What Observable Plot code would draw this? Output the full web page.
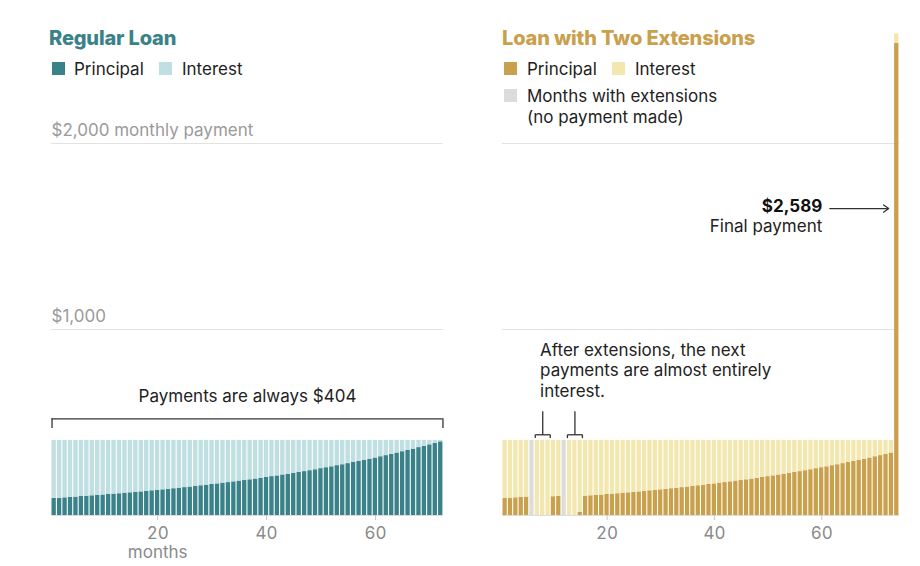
<!DOCTYPE html>
<html>
<head>
<meta charset="utf-8">
<script src="https://cdn.jsdelivr.net/npm/d3@7"></script>
<script src="https://cdn.jsdelivr.net/npm/@observablehq/plot@0.6"></script>
<style>
  html, body { margin: 0; padding: 0; background: #fff; }
  #wrap { position: relative; width: 920px; height: 566px; overflow: hidden; font-family: Inter, "Noto Sans", sans-serif; color: #222; }
  .panel { position: absolute; top: 0; }
  .abs { position: absolute; white-space: nowrap; }
  .title { font-size: 20px; line-height: 20px; font-weight: 800; letter-spacing: -0.15px; }
  .leg { font-size: 17px; line-height: 17px; }
  .sw { position: absolute; width: 13px; height: 13px; }
</style>
</head>
<body>
<div id="wrap">
  <div id="left" class="panel" style="left:0"></div>
  <div id="right" class="panel" style="left:460px"></div>

  <div class="abs title" style="left:49px; top:27.7px; color:#3a8289">Regular Loan</div>
  <div class="sw" style="left:52px; top:62px; background:#3a8289"></div>
  <div class="abs leg" style="left:74px; top:60.8px">Principal</div>
  <div class="sw" style="left:159px; top:62px; background:#bfdfe2"></div>
  <div class="abs leg" style="left:182px; top:60.8px">Interest</div>

  <div class="abs title" style="left:502px; top:27.7px; color:#c9a04b">Loan with Two Extensions</div>
  <div class="sw" style="left:504px; top:62px; background:#c9a04b"></div>
  <div class="abs leg" style="left:527px; top:60.8px">Principal</div>
  <div class="sw" style="left:612px; top:62px; background:#f3e7b0"></div>
  <div class="abs leg" style="left:635px; top:60.8px">Interest</div>
  <div class="sw" style="left:504px; top:88.5px; background:#dcdcdc"></div>
  <div class="abs leg" style="left:527px; top:88px">Months with extensions</div>
  <div class="abs leg" style="left:527px; top:108.5px">(no payment made)</div>
</div>
<script>
// ---------- data ----------
const regularPayment = 404;
const leftPrincipal = [92,93,95,97,99,102,104,106,108,110,113,115,117,120,122,125,127,130,133,135,138,141,144,147,150,153,157,160,163,167,170,174,177,181,185,188,192,196,200,205,209,213,218,222,227,232,236,241,246,252,257,262,268,273,279,285,291,297,303,309,316,322,329,336,343,350,357,365,372,380,388,396];
const leftInterest = [312,311,309,307,305,302,300,298,296,294,291,289,287,284,282,279,277,274,271,269,266,263,260,257,254,251,247,244,241,237,234,230,227,223,219,216,212,208,204,199,195,191,186,182,177,172,168,163,158,152,147,142,136,131,125,119,113,107,101,95,88,82,75,68,61,54,47,39,32,24,16,8];
const rightPrincipal = [92,93,95,97,99,0,0,0,0,101,103,0,0,0,18,104,106,108,110,113,115,117,120,122,125,127,130,133,135,138,141,144,147,150,153,157,160,163,167,170,174,177,181,185,188,192,196,200,205,209,213,218,222,227,232,236,241,246,252,257,262,268,273,279,285,291,297,303,309,316,322,329,336,2539];
const rightInterest = [312,311,309,307,305,0,404,404,404,303,301,0,404,404,386,300,298,296,294,291,289,287,284,282,279,277,274,271,269,266,263,260,257,254,251,247,244,241,237,234,230,227,223,219,216,212,208,204,199,195,191,186,182,177,172,168,163,158,152,147,142,136,131,125,119,113,107,101,95,88,82,75,68,50];
const extensionMonths = [6, 12];
const xTicks = [20, 40, 60];
const gridValues = [1000, 2000];
const gridLabels = ["$1,000", "$2,000 monthly payment"];
const finalPaymentLabel = "$2,589";

// ---------- style ----------
const FS = 17;
const C = {
  teal: "#3a8289", tealLight: "#bfdfe2",
  gold: "#c9a04b", goldLight: "#f3e7b0",
  ext: "#dcdcdc", grid: "#e2e2e2", base: "#dcdcdc",
  tick: "#c8c8c8", tickText: "#8a8a8a", gridText: "#9a9a9a", ink: "#222"
};
const common = {
  width: 460, height: 566, marginTop: 31.4, marginBottom: 51,
  y: {domain: [0, 2600], axis: null},
  style: {fontFamily: "Inter, 'Noto Sans', sans-serif", fontSize: FS + "px", color: C.ink, background: "transparent", overflow: "visible"}
};
const toRows = (p, it) => p.map((v, i) => ({month: i + 1, principal: v, interest: it[i]}));
const leftData = toRows(leftPrincipal, leftInterest);
const rightData = toRows(rightPrincipal, rightInterest);
const bx1 = d => d.month - 0.5, bx2 = d => d.month + 0.5;
const ins = {insetLeft: 0.5, insetRight: 0.6};
const axis = () => Plot.axisX({ticks: xTicks, tickSize: 5, tickPadding: 6, fontSize: FS, stroke: C.tick, fill: C.tickText, label: null});

// ---------- left panel ----------
const gridRows = gridValues.map((v, i) => ({value: v, label: gridLabels[i]}));
const left = Plot.plot({
  ...common, marginLeft: 51, marginRight: 17,
  x: {domain: [0.5, leftData.length + 0.5]},
  marks: [
    Plot.ruleY(gridValues, {stroke: C.grid}),
    Plot.text(gridRows, {x: 0.5, y: "value", text: "label", textAnchor: "start", lineAnchor: "bottom", dy: -8, fill: C.gridText, fontSize: FS}),
    Plot.rect(leftData, {x1: bx1, x2: bx2, y1: 0, y2: "principal", fill: C.teal, ...ins}),
    Plot.rect(leftData, {x1: bx1, x2: bx2, y1: "principal", y2: d => d.principal + d.interest, fill: C.tealLight, ...ins}),
    Plot.ruleY([0], {stroke: C.base}),
    axis(),
    Plot.text(["months"], {x: xTicks[0], frameAnchor: "bottom", lineAnchor: "bottom", dy: 42, fill: C.tickText, fontSize: FS}),
    // bracket over all payments
    Plot.ruleY([520], {x1: 0.6, x2: leftData.length + 0.4, stroke: "#333", strokeWidth: 1.3}),
    Plot.ruleX([0.6, leftData.length + 0.4], {y1: 468, y2: 520, stroke: "#333", strokeWidth: 1.3}),
    Plot.text(["Payments are always $" + regularPayment], {x: (leftData.length + 1) / 2, y: 612, lineAnchor: "bottom", fill: C.ink, fontSize: FS})
  ]
});
document.getElementById("left").appendChild(left);

// ---------- right panel ----------
const n = rightData.length;
const finalRow = rightData[n - 1];
const bracketRows = extensionMonths.map(m => ({from: m + 1, to: m + 3, mid: m + 2}));
const right = Plot.plot({
  ...common, marginLeft: 42, marginRight: 21,
  x: {domain: [0.5, n + 0.5]},
  marks: [
    Plot.ruleY(gridValues, {stroke: C.grid}),
    Plot.rect(extensionMonths, {x1: d => d - 0.5, x2: d => d + 0.5, y1: 0, y2: regularPayment, fill: C.ext, ...ins}),
    Plot.rect(rightData, {x1: bx1, x2: bx2, y1: 0, y2: "principal", fill: C.gold, ...ins}),
    Plot.rect(rightData.filter(d => d.interest > 0), {x1: bx1, x2: bx2, y1: "principal", y2: d => d.principal + d.interest, fill: C.goldLight, ...ins}),
    Plot.ruleY([0], {stroke: C.base}),
    axis(),
    // annotation text
    Plot.text(["After extensions, the next\npayments are almost entirely\ninterest."], {x: 7.5, y: 932, textAnchor: "start", lineAnchor: "top", lineHeight: 1.18, fill: C.ink, fontSize: FS}),
    // small brackets after each extension
    Plot.link(bracketRows, {x1: d => d.from - 0.4, x2: d => d.to + 0.4, y1: 434, y2: 434, stroke: "#333", strokeWidth: 1.3}),
    Plot.link(bracketRows, {x1: d => d.from - 0.4, x2: d => d.from - 0.4, y1: 416, y2: 434, stroke: "#333", strokeWidth: 1.3}),
    Plot.link(bracketRows, {x1: d => d.to + 0.4, x2: d => d.to + 0.4, y1: 416, y2: 434, stroke: "#333", strokeWidth: 1.3}),
    Plot.link(bracketRows, {x1: "mid", x2: "mid", y1: 434, y2: 561, stroke: "#333", strokeWidth: 1.3}),
    // final payment callout
    Plot.text([finalPaymentLabel], {x: 60.1, y: 1631, textAnchor: "end", lineAnchor: "bottom", fontWeight: "bold", fill: "#111", fontSize: FS}),
    Plot.text(["Final payment"], {x: 60.1, y: 1523, textAnchor: "end", lineAnchor: "bottom", fill: C.ink, fontSize: FS}),
    Plot.arrow([finalRow], {x1: 61.5, x2: n - 1.5, y1: 1650, y2: 1650, stroke: "#333", strokeWidth: 1.2, headLength: 8, headAngle: 70})
  ]
});
document.getElementById("right").appendChild(right);
</script>
</body>
</html>
